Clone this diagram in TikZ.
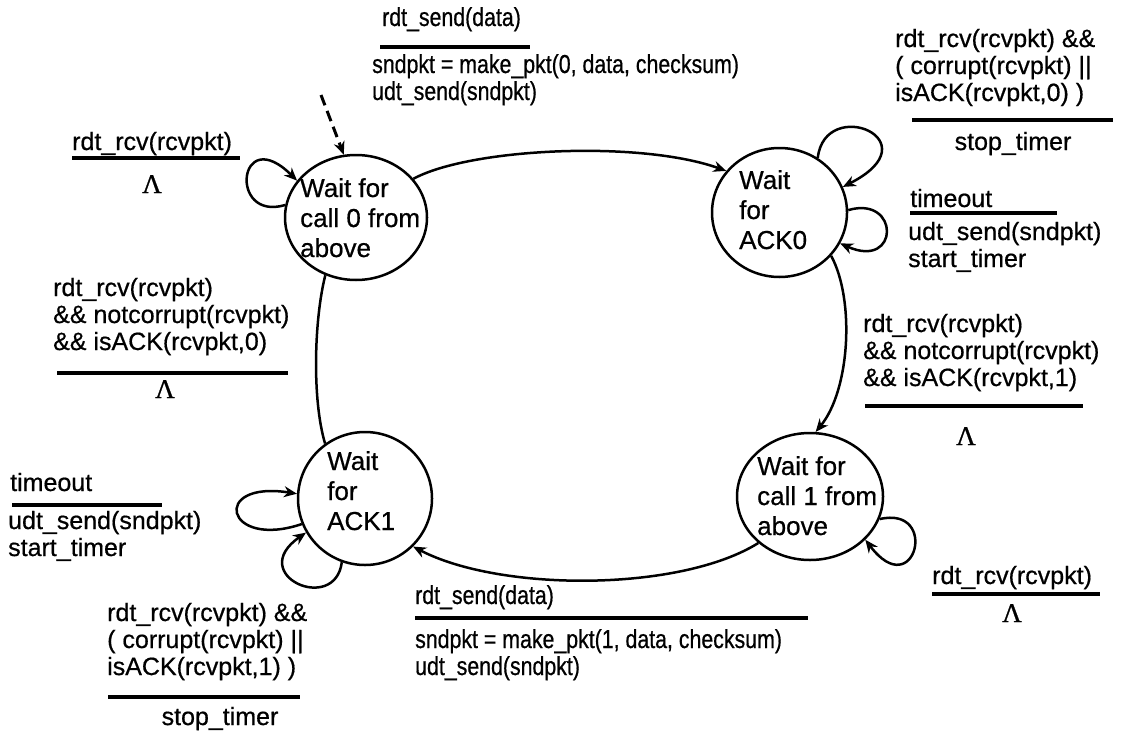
\documentclass[tikz,border=0pt]{standalone}
\usepackage{fontspec}
\setmainfont{Liberation Sans}[FakeBold=0.6]
\newfontfamily\cfont[FakeStretch=0.82,FakeBold=0.6]{Liberation Sans}
\newfontfamily\lamfont[FakeBold=0.8]{Liberation Serif}
\usetikzlibrary{shapes.geometric,arrows.meta}
\newcommand\ml[1]{\begin{tabular}[t]{@{}l@{}}#1\end{tabular}}
\begin{document}
\begin{tikzpicture}[x=1pt,y=-1pt,
  state/.style={draw, ellipse, line width=2.5pt, inner sep=0pt},
  stext/.style={anchor=base west, inner sep=0pt, font=\fontsize{26}{30}\selectfont},
  lbl/.style={anchor=base west, inner sep=0pt, font=\fontsize{25}{27}\selectfont},
  clbl/.style={anchor=base west, inner sep=0pt, font=\cfont\fontsize{26}{27}\selectfont},
  lam/.style={anchor=base, inner sep=0pt, font=\lamfont\fontsize{27}{27}\selectfont},
  bar/.style={line width=3.5pt},
  tr/.style={line width=2.5pt, -{Stealth[length=13pt,width=11pt]}},
  trn/.style={line width=2.5pt},
  init/.style={line width=3pt, dash pattern=on 11pt off 6pt, -{Stealth[length=13pt,width=11pt]}}
]
\fill[white] (0,0) rectangle (1123,736);
\useasboundingbox (0,0) rectangle (1123,736);

% states
\node[state, minimum width=142pt, minimum height=125pt] (s0) at (356,217.5) {};
\node[state, minimum width=135pt, minimum height=129pt] (s1) at (779.5,212.5) {};
\node[state, minimum width=146pt, minimum height=127pt] (s2) at (810,496.5) {};
\node[state, minimum width=134pt, minimum height=133pt] (s3) at (365,498.5) {};

\node[stext] (s0t) at (300,197) {\ml{Wait for\\call 0 from\\above}};
\node[stext] (s1t) at (739,189) {\ml{Wait\\for\\ACK0}};
\node[stext] (s2t) at (757,475) {\ml{Wait for\\call 1 from\\above}};
\node[stext] (s3t) at (327,470) {\ml{Wait\\for\\ACK1}};

% initial dashed arrow
\coordinate (i0) at (321,95);
\draw[init] (i0) -- (s0.101);

% transitions between states
\draw[tr] (s0.34) .. controls (470,148) and (640,140) .. (s1.142);
\draw[tr] (s1.-40) .. controls (855,300) and (850,390) .. (s2.85);
\draw[tr] (s2.-138) .. controls (680,592) and (500,592) .. (s3.-45);
\draw[trn] (s3.126) .. controls (312,400) and (314,320) .. (s0.-118);

% self loops
\draw[tr] (s0.170) .. controls (228,222) and (238,122) .. (s0.148);
\draw[tr] (s1.55) .. controls (825,95) and (935,140) .. (s1.22);
\draw[tr] (s1.2) .. controls (900,195) and (900,270) .. (s1.-27);
\draw[tr] (s3.-158) .. controls (225,550) and (210,480) .. (s3.176);
\draw[tr] (s3.-110) .. controls (335,615) and (245,575) .. (s3.-150);
\draw[tr] (s2.-18) .. controls (940,505) and (915,605) .. (s2.-38);

% top centre label
\node[clbl] (l1a) at (382,26) {rdt\_send(data)};
\draw[bar] (380,47) -- (530,47);
\node[clbl] (l1b) at (372,73) {\ml{sndpkt = make\_pkt(0, data, checksum)\\udt\_send(sndpkt)}};

% top right label
\node[lbl] (l2a) at (895,47) {\ml{rdt\_rcv(rcvpkt) \&\&\\( corrupt(rcvpkt) ||\\isACK(rcvpkt,0) )}};
\draw[bar] (912,120) -- (1113,120);
\node[lbl, anchor=base] (l2b) at (1013,150) {stop\_timer};

% right timeout
\node[lbl] (l3a) at (910,207) {timeout};
\draw[bar] (910,213) -- (1057,213);
\node[lbl] (l3b) at (908,240) {\ml{udt\_send(sndpkt)\\start\_timer}};

% left top
\node[lbl] (l4a) at (72,150) {rdt\_rcv(rcvpkt)};
\draw[bar] (72,158) -- (240,158);
\node[lam] (l4b) at (152,193) {Λ};

% left middle
\node[lbl] (l5a) at (53,296) {\ml{rdt\_rcv(rcvpkt)\\\&\& notcorrupt(rcvpkt)\\\&\& isACK(rcvpkt,0)}};
\draw[bar] (57,373) -- (288,373);
\node[lam] (l5b) at (165,398) {Λ};

% right middle
\node[lbl] (l6a) at (863,332) {\ml{rdt\_rcv(rcvpkt)\\\&\& notcorrupt(rcvpkt)\\\&\& isACK(rcvpkt,1)}};
\draw[bar] (865,406) -- (1083,406);
\node[lam] (l6b) at (966,445) {Λ};

% bottom-left timeout
\node[lbl] (l7a) at (10,491) {timeout};
\draw[bar] (12,505) -- (162,505);
\node[lbl] (l7b) at (8,529) {\ml{udt\_send(sndpkt)\\start\_timer}};

% bottom-left lower
\node[lbl] (l8a) at (107,621) {\ml{rdt\_rcv(rcvpkt) \&\&\\( corrupt(rcvpkt) ||\\isACK(rcvpkt,1) )}};
\draw[bar] (108,697) -- (300,697);
\node[lbl, anchor=base] (l8b) at (220,725) {stop\_timer};

% bottom centre
\node[clbl] (l9a) at (415,604) {rdt\_send(data)};
\draw[bar] (415,618) -- (808,618);
\node[clbl] (l9b) at (415,648) {\ml{sndpkt = make\_pkt(1, data, checksum)\\udt\_send(sndpkt)}};

% bottom right
\node[lbl] (l10a) at (932,584) {rdt\_rcv(rcvpkt)};
\draw[bar] (932,594) -- (1100,594);
\node[lam] (l10b) at (1012,622) {Λ};
\end{tikzpicture}
\end{document}
